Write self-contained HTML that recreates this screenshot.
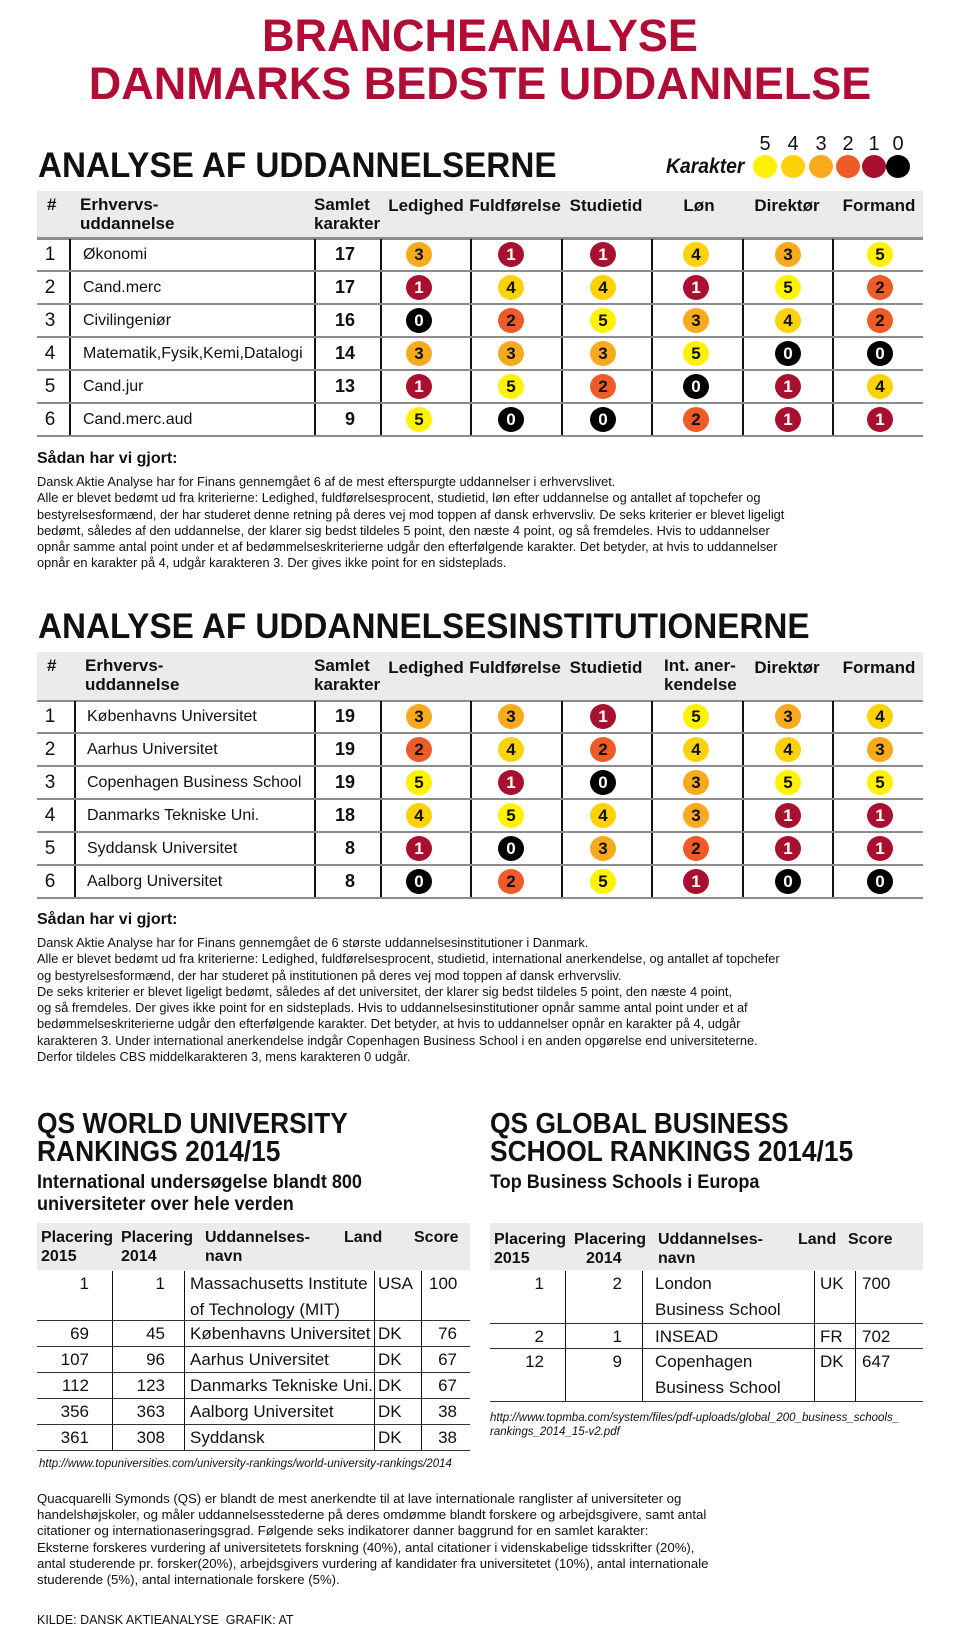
<!DOCTYPE html>
<html><head><meta charset="utf-8">
<style>
*{margin:0;padding:0;box-sizing:border-box}
body{width:960px;height:1640px;background:#fff;font-family:"Liberation Sans",Arial,sans-serif;color:#111;position:relative;overflow:hidden}
.t{position:absolute;white-space:nowrap;line-height:1}
.sx{transform-origin:0 50%;display:inline-block}
.title{color:#b00c36;font-weight:bold;font-size:45px;left:0;width:960px;text-align:center}
.h1{font-weight:bold;font-size:35px;left:38px}
.gray{position:absolute;background:#ebebeb}
.hd{position:absolute;font-weight:bold;font-size:17px;line-height:19px;white-space:nowrap}
.hc{text-align:center;width:100px}
.r{position:absolute;left:37px;width:886px;height:33px;border-bottom:2px solid #8c8c8c}
.r .v{position:absolute;top:0;bottom:0;width:1.5px;background:#111}
.r .n{position:absolute;left:0;width:26px;text-align:center;line-height:31px;font-size:19px}
.r .nm{position:absolute;line-height:31px;font-size:16px;white-space:nowrap}
.r .s{position:absolute;left:270px;width:48px;text-align:right;line-height:31px;font-size:18px;font-weight:bold}
.c{position:absolute;top:3px;width:26px;height:25px;border-radius:50%;font-style:normal;font-weight:bold;font-size:17px;line-height:25px;text-align:center;color:#111}
.c5{background:#fff200}.c4{background:#fdd20a}.c3{background:#f8aa1e}.c2{background:#ee5a28}.c1{background:#a8102f;color:#fff}.c0{background:#000;color:#fff}
.a1{left:369px}.a2{left:461px}.a3{left:553px}.a4{left:646px}.a5{left:738px}.a6{left:830px}
.lg{position:absolute;top:155px;width:24px;height:23px;border-radius:50%}
.ln{position:absolute;top:134px;font-size:20px;width:24px;text-align:center;line-height:1}
.body{position:absolute;left:37px;font-size:12.8px;line-height:16.3px;white-space:nowrap}
.q{position:absolute;height:26px;border-bottom:1.5px solid #333}
.q .v{position:absolute;top:0;bottom:0;width:1px;background:#111}
.q span{position:absolute;font-size:17px;line-height:26px;white-space:nowrap}
.q .rt{text-align:right}
.qh{position:absolute;font-weight:bold;font-size:16px;line-height:19px;white-space:nowrap}
</style></head><body>

<div class="t title" style="top:13px">BRANCHEANALYSE</div>
<div class="t title" style="top:61px">DANMARKS BEDSTE UDDANNELSE</div>

<!-- Section 1 -->
<div class="t h1" style="top:148px"><span class="sx" style="transform:scaleX(.95)">ANALYSE AF UDDANNELSERNE</span></div>
<div class="ln" style="left:753px">5</div>
<div class="ln" style="left:781px">4</div>
<div class="ln" style="left:809px">3</div>
<div class="ln" style="left:836px">2</div>
<div class="ln" style="left:862px">1</div>
<div class="ln" style="left:886px">0</div>
<div class="t" style="left:666px;top:156px;font-size:21px;font-weight:bold;font-style:italic"><span class="sx" style="transform:scaleX(.92)">Karakter</span></div>
<div class="lg c5" style="left:753px"></div><div class="lg c4" style="left:781px"></div><div class="lg c3" style="left:809px"></div><div class="lg c2" style="left:836px"></div><div class="lg c1" style="left:862px"></div><div class="lg c0" style="left:886px"></div>

<div class="gray" style="left:37px;top:191px;width:886px;height:47px"></div>
<div class="hd" style="left:47px;top:195px">#</div>
<div class="hd" style="left:80px;top:195px">Erhvervs-<br>uddannelse</div>
<div class="hd" style="left:314px;top:195px">Samlet<br>karakter</div>
<div class="hd hc" style="left:376px;top:196px">Ledighed</div>
<div class="hd hc" style="left:465px;top:196px">Fuldførelse</div>
<div class="hd hc" style="left:556px;top:196px">Studietid</div>
<div class="hd hc" style="left:649px;top:196px">Løn</div>
<div class="hd hc" style="left:737px;top:196px">Direktør</div>
<div class="hd hc" style="left:829px;top:196px">Formand</div>
<div style="position:absolute;left:37px;top:237px;width:886px;height:2.5px;background:#8c8c8c"></div>

<div class="r" style="top:239px"><i class="v" style="left:32px"></i><i class="v" style="left:277px"></i><i class="v" style="left:343px"></i><i class="v" style="left:433px"></i><i class="v" style="left:524px"></i><i class="v" style="left:614px"></i><i class="v" style="left:705px"></i><i class="v" style="left:795px"></i>
<span class="n">1</span><span class="nm" style="left:46px">Økonomi</span><span class="s">17</span>
<i class="c c3 a1">3</i><i class="c c1 a2">1</i><i class="c c1 a3">1</i><i class="c c4 a4">4</i><i class="c c3 a5">3</i><i class="c c5 a6">5</i></div>
<div class="r" style="top:272px"><i class="v" style="left:32px"></i><i class="v" style="left:277px"></i><i class="v" style="left:343px"></i><i class="v" style="left:433px"></i><i class="v" style="left:524px"></i><i class="v" style="left:614px"></i><i class="v" style="left:705px"></i><i class="v" style="left:795px"></i>
<span class="n">2</span><span class="nm" style="left:46px">Cand.merc</span><span class="s">17</span>
<i class="c c1 a1">1</i><i class="c c4 a2">4</i><i class="c c4 a3">4</i><i class="c c1 a4">1</i><i class="c c5 a5">5</i><i class="c c2 a6">2</i></div>
<div class="r" style="top:305px"><i class="v" style="left:32px"></i><i class="v" style="left:277px"></i><i class="v" style="left:343px"></i><i class="v" style="left:433px"></i><i class="v" style="left:524px"></i><i class="v" style="left:614px"></i><i class="v" style="left:705px"></i><i class="v" style="left:795px"></i>
<span class="n">3</span><span class="nm" style="left:46px">Civilingeniør</span><span class="s">16</span>
<i class="c c0 a1">0</i><i class="c c2 a2">2</i><i class="c c5 a3">5</i><i class="c c3 a4">3</i><i class="c c4 a5">4</i><i class="c c2 a6">2</i></div>
<div class="r" style="top:338px"><i class="v" style="left:32px"></i><i class="v" style="left:277px"></i><i class="v" style="left:343px"></i><i class="v" style="left:433px"></i><i class="v" style="left:524px"></i><i class="v" style="left:614px"></i><i class="v" style="left:705px"></i><i class="v" style="left:795px"></i>
<span class="n">4</span><span class="nm" style="left:46px">Matematik,Fysik,Kemi,Datalogi</span><span class="s">14</span>
<i class="c c3 a1">3</i><i class="c c3 a2">3</i><i class="c c3 a3">3</i><i class="c c5 a4">5</i><i class="c c0 a5">0</i><i class="c c0 a6">0</i></div>
<div class="r" style="top:371px"><i class="v" style="left:32px"></i><i class="v" style="left:277px"></i><i class="v" style="left:343px"></i><i class="v" style="left:433px"></i><i class="v" style="left:524px"></i><i class="v" style="left:614px"></i><i class="v" style="left:705px"></i><i class="v" style="left:795px"></i>
<span class="n">5</span><span class="nm" style="left:46px">Cand.jur</span><span class="s">13</span>
<i class="c c1 a1">1</i><i class="c c5 a2">5</i><i class="c c2 a3">2</i><i class="c c0 a4">0</i><i class="c c1 a5">1</i><i class="c c4 a6">4</i></div>
<div class="r" style="top:404px"><i class="v" style="left:32px"></i><i class="v" style="left:277px"></i><i class="v" style="left:343px"></i><i class="v" style="left:433px"></i><i class="v" style="left:524px"></i><i class="v" style="left:614px"></i><i class="v" style="left:705px"></i><i class="v" style="left:795px"></i>
<span class="n">6</span><span class="nm" style="left:46px">Cand.merc.aud</span><span class="s">9</span>
<i class="c c5 a1">5</i><i class="c c0 a2">0</i><i class="c c0 a3">0</i><i class="c c2 a4">2</i><i class="c c1 a5">1</i><i class="c c1 a6">1</i></div>

<div class="t" style="left:37px;top:450px;font-size:16px;font-weight:bold;line-height:18px">Sådan har vi gjort:</div>
<div class="body" style="top:474px">Dansk Aktie Analyse har for Finans gennemgået 6 af de mest efterspurgte uddannelser i erhvervslivet.<br>Alle er blevet bedømt ud fra kriterierne: Ledighed, fuldførelsesprocent, studietid, løn efter uddannelse og antallet af topchefer og<br>bestyrelsesformænd, der har studeret denne retning på deres vej mod toppen af dansk erhvervsliv. De seks kriterier er blevet ligeligt<br>bedømt, således af den uddannelse, der klarer sig bedst tildeles 5 point, den næste 4 point, og så fremdeles. Hvis to uddannelser<br>opnår samme antal point under et af bedømmelseskriterierne udgår den efterfølgende karakter. Det betyder, at hvis to uddannelser<br>opnår en karakter på 4, udgår karakteren 3. Der gives ikke point for en sidsteplads.</div>

<!-- Section 2 -->
<div class="t h1" style="top:609px"><span class="sx" style="transform:scaleX(.95)">ANALYSE AF UDDANNELSESINSTITUTIONERNE</span></div>
<div class="gray" style="left:37px;top:652px;width:886px;height:48px"></div>
<div class="hd" style="left:47px;top:656px">#</div>
<div class="hd" style="left:85px;top:656px">Erhvervs-<br>uddannelse</div>
<div class="hd" style="left:314px;top:656px">Samlet<br>karakter</div>
<div class="hd hc" style="left:376px;top:658px">Ledighed</div>
<div class="hd hc" style="left:465px;top:658px">Fuldførelse</div>
<div class="hd hc" style="left:556px;top:658px">Studietid</div>
<div class="hd" style="left:664px;top:656px">Int. aner-<br>kendelse</div>
<div class="hd hc" style="left:737px;top:658px">Direktør</div>
<div class="hd hc" style="left:829px;top:658px">Formand</div>
<div style="position:absolute;left:37px;top:700px;width:886px;height:1.5px;background:#8c8c8c"></div>

<div class="r" style="top:701px"><i class="v" style="left:37px"></i><i class="v" style="left:277px"></i><i class="v" style="left:343px"></i><i class="v" style="left:433px"></i><i class="v" style="left:524px"></i><i class="v" style="left:614px"></i><i class="v" style="left:705px"></i><i class="v" style="left:795px"></i>
<span class="n">1</span><span class="nm" style="left:50px">Københavns Universitet</span><span class="s">19</span>
<i class="c c3 a1">3</i><i class="c c3 a2">3</i><i class="c c1 a3">1</i><i class="c c5 a4">5</i><i class="c c3 a5">3</i><i class="c c4 a6">4</i></div>
<div class="r" style="top:734px"><i class="v" style="left:37px"></i><i class="v" style="left:277px"></i><i class="v" style="left:343px"></i><i class="v" style="left:433px"></i><i class="v" style="left:524px"></i><i class="v" style="left:614px"></i><i class="v" style="left:705px"></i><i class="v" style="left:795px"></i>
<span class="n">2</span><span class="nm" style="left:50px">Aarhus Universitet</span><span class="s">19</span>
<i class="c c2 a1">2</i><i class="c c4 a2">4</i><i class="c c2 a3">2</i><i class="c c4 a4">4</i><i class="c c4 a5">4</i><i class="c c3 a6">3</i></div>
<div class="r" style="top:767px"><i class="v" style="left:37px"></i><i class="v" style="left:277px"></i><i class="v" style="left:343px"></i><i class="v" style="left:433px"></i><i class="v" style="left:524px"></i><i class="v" style="left:614px"></i><i class="v" style="left:705px"></i><i class="v" style="left:795px"></i>
<span class="n">3</span><span class="nm" style="left:50px">Copenhagen Business School</span><span class="s">19</span>
<i class="c c5 a1">5</i><i class="c c1 a2">1</i><i class="c c0 a3">0</i><i class="c c3 a4">3</i><i class="c c5 a5">5</i><i class="c c5 a6">5</i></div>
<div class="r" style="top:800px"><i class="v" style="left:37px"></i><i class="v" style="left:277px"></i><i class="v" style="left:343px"></i><i class="v" style="left:433px"></i><i class="v" style="left:524px"></i><i class="v" style="left:614px"></i><i class="v" style="left:705px"></i><i class="v" style="left:795px"></i>
<span class="n">4</span><span class="nm" style="left:50px">Danmarks Tekniske Uni.</span><span class="s">18</span>
<i class="c c4 a1">4</i><i class="c c5 a2">5</i><i class="c c4 a3">4</i><i class="c c3 a4">3</i><i class="c c1 a5">1</i><i class="c c1 a6">1</i></div>
<div class="r" style="top:833px"><i class="v" style="left:37px"></i><i class="v" style="left:277px"></i><i class="v" style="left:343px"></i><i class="v" style="left:433px"></i><i class="v" style="left:524px"></i><i class="v" style="left:614px"></i><i class="v" style="left:705px"></i><i class="v" style="left:795px"></i>
<span class="n">5</span><span class="nm" style="left:50px">Syddansk Universitet</span><span class="s">8</span>
<i class="c c1 a1">1</i><i class="c c0 a2">0</i><i class="c c3 a3">3</i><i class="c c2 a4">2</i><i class="c c1 a5">1</i><i class="c c1 a6">1</i></div>
<div class="r" style="top:866px"><i class="v" style="left:37px"></i><i class="v" style="left:277px"></i><i class="v" style="left:343px"></i><i class="v" style="left:433px"></i><i class="v" style="left:524px"></i><i class="v" style="left:614px"></i><i class="v" style="left:705px"></i><i class="v" style="left:795px"></i>
<span class="n">6</span><span class="nm" style="left:50px">Aalborg Universitet</span><span class="s">8</span>
<i class="c c0 a1">0</i><i class="c c2 a2">2</i><i class="c c5 a3">5</i><i class="c c1 a4">1</i><i class="c c0 a5">0</i><i class="c c0 a6">0</i></div>

<div class="t" style="left:37px;top:911px;font-size:16px;font-weight:bold;line-height:18px">Sådan har vi gjort:</div>
<div class="body" style="top:935px">Dansk Aktie Analyse har for Finans gennemgået de 6 største uddannelsesinstitutioner i Danmark.<br>Alle er blevet bedømt ud fra kriterierne: Ledighed, fuldførelsesprocent, studietid, international anerkendelse, og antallet af topchefer<br>og bestyrelsesformænd, der har studeret på institutionen på deres vej mod toppen af dansk erhvervsliv.<br>De seks kriterier er blevet ligeligt bedømt, således af det universitet, der klarer sig bedst tildeles 5 point, den næste 4 point,<br>og så fremdeles. Der gives ikke point for en sidsteplads. Hvis to uddannelsesinstitutioner opnår samme antal point under et af<br>bedømmelseskriterierne udgår den efterfølgende karakter. Det betyder, at hvis to uddannelser opnår en karakter på 4, udgår<br>karakteren 3. Under international anerkendelse indgår Copenhagen Business School i en anden opgørelse end universiteterne.<br>Derfor tildeles CBS middelkarakteren 3, mens karakteren 0 udgår.</div>

<!-- QS left -->
<div class="t" style="left:37px;top:1110px;font-size:29px;font-weight:bold;line-height:28px"><span class="sx" style="transform:scaleX(.91)">QS WORLD UNIVERSITY<br>RANKINGS 2014/15</span></div>
<div class="t" style="left:37px;top:1172px;font-size:19px;font-weight:bold;line-height:22px"><span class="sx" style="transform:scaleX(.95)">International undersøgelse blandt 800<br>universiteter over hele verden</span></div>
<div class="gray" style="left:37px;top:1223px;width:433px;height:47px"></div>
<div class="qh" style="left:41px;top:1228px">Placering<br>2015</div>
<div class="qh" style="left:121px;top:1228px">Placering<br>2014</div>
<div class="qh" style="left:205px;top:1228px">Uddannelses-<br>navn</div>
<div class="qh" style="left:344px;top:1228px">Land</div>
<div class="qh" style="left:414px;top:1228px">Score</div>

<div class="q" style="left:37px;width:433px;top:1271px;height:50px"><i class="v" style="left:75px"></i><i class="v" style="left:147px"></i><i class="v" style="left:337px"></i><i class="v" style="left:384px"></i>
<span class="rt" style="left:0;width:52px">1</span><span class="rt" style="left:80px;width:48px">1</span><span style="left:153px">Massachusetts Institute<br>of Technology (MIT)</span><span style="left:341px">USA</span><span style="left:392px">100</span></div>
<div class="q" style="left:37px;width:433px;top:1321px"><i class="v" style="left:75px"></i><i class="v" style="left:147px"></i><i class="v" style="left:337px"></i><i class="v" style="left:384px"></i>
<span class="rt" style="left:0;width:52px">69</span><span class="rt" style="left:80px;width:48px">45</span><span style="left:153px">Københavns Universitet</span><span style="left:341px">DK</span><span class="rt" style="left:384px;width:36px">76</span></div>
<div class="q" style="left:37px;width:433px;top:1347px"><i class="v" style="left:75px"></i><i class="v" style="left:147px"></i><i class="v" style="left:337px"></i><i class="v" style="left:384px"></i>
<span class="rt" style="left:0;width:52px">107</span><span class="rt" style="left:80px;width:48px">96</span><span style="left:153px">Aarhus Universitet</span><span style="left:341px">DK</span><span class="rt" style="left:384px;width:36px">67</span></div>
<div class="q" style="left:37px;width:433px;top:1373px"><i class="v" style="left:75px"></i><i class="v" style="left:147px"></i><i class="v" style="left:337px"></i><i class="v" style="left:384px"></i>
<span class="rt" style="left:0;width:52px">112</span><span class="rt" style="left:80px;width:48px">123</span><span style="left:153px">Danmarks Tekniske Uni.</span><span style="left:341px">DK</span><span class="rt" style="left:384px;width:36px">67</span></div>
<div class="q" style="left:37px;width:433px;top:1399px"><i class="v" style="left:75px"></i><i class="v" style="left:147px"></i><i class="v" style="left:337px"></i><i class="v" style="left:384px"></i>
<span class="rt" style="left:0;width:52px">356</span><span class="rt" style="left:80px;width:48px">363</span><span style="left:153px">Aalborg Universitet</span><span style="left:341px">DK</span><span class="rt" style="left:384px;width:36px">38</span></div>
<div class="q" style="left:37px;width:433px;top:1425px"><i class="v" style="left:75px"></i><i class="v" style="left:147px"></i><i class="v" style="left:337px"></i><i class="v" style="left:384px"></i>
<span class="rt" style="left:0;width:52px">361</span><span class="rt" style="left:80px;width:48px">308</span><span style="left:153px">Syddansk</span><span style="left:341px">DK</span><span class="rt" style="left:384px;width:36px">38</span></div>
<div class="t" style="left:39px;top:1458px;font-size:11.5px;font-style:italic;line-height:13px">http://www.topuniversities.com/university-rankings/world-university-rankings/2014</div>

<!-- QS right -->
<div class="t" style="left:490px;top:1110px;font-size:29px;font-weight:bold;line-height:28px"><span class="sx" style="transform:scaleX(.91)">QS GLOBAL BUSINESS<br>SCHOOL RANKINGS 2014/15</span></div>
<div class="t" style="left:490px;top:1172px;font-size:19px;font-weight:bold;line-height:22px"><span class="sx" style="transform:scaleX(.95)">Top Business Schools i Europa</span></div>
<div class="gray" style="left:490px;top:1223px;width:433px;height:47px"></div>
<div class="qh" style="left:494px;top:1230px">Placering<br>2015</div>
<div class="qh" style="left:574px;top:1230px">Placering<br><span style="padding-left:12px">2014</span></div>
<div class="qh" style="left:658px;top:1230px">Uddannelses-<br>navn</div>
<div class="qh" style="left:798px;top:1230px">Land</div>
<div class="qh" style="left:848px;top:1230px">Score</div>

<div class="q" style="left:490px;width:433px;top:1271px;height:53px"><i class="v" style="left:75px"></i><i class="v" style="left:152px"></i><i class="v" style="left:324px"></i><i class="v" style="left:365px"></i>
<span class="rt" style="left:0;width:54px">1</span><span class="rt" style="left:80px;width:52px">2</span><span style="left:165px">London<br>Business School</span><span style="left:330px">UK</span><span style="left:372px">700</span></div>
<div class="q" style="left:490px;width:433px;top:1324px;height:25px"><i class="v" style="left:75px"></i><i class="v" style="left:152px"></i><i class="v" style="left:324px"></i><i class="v" style="left:365px"></i>
<span class="rt" style="left:0;width:54px">2</span><span class="rt" style="left:80px;width:52px">1</span><span style="left:165px">INSEAD</span><span style="left:330px">FR</span><span style="left:372px">702</span></div>
<div class="q" style="left:490px;width:433px;top:1349px;height:53px"><i class="v" style="left:75px"></i><i class="v" style="left:152px"></i><i class="v" style="left:324px"></i><i class="v" style="left:365px"></i>
<span class="rt" style="left:0;width:54px">12</span><span class="rt" style="left:80px;width:52px">9</span><span style="left:165px">Copenhagen<br>Business School</span><span style="left:330px">DK</span><span style="left:372px">647</span></div>
<div class="t" style="left:490px;top:1411px;font-size:11.5px;font-style:italic;line-height:14px">http://www.topmba.com/system/files/pdf-uploads/global_200_business_schools_<br>rankings_2014_15-v2.pdf</div>

<div class="body" style="top:1491px;font-size:13.2px;line-height:16.2px">Quacquarelli Symonds (QS) er blandt de mest anerkendte til at lave internationale ranglister af universiteter og<br>handelshøjskoler, og måler uddannelsesstederne på deres omdømme blandt forskere og arbejdsgivere, samt antal<br>citationer og internationaseringsgrad. Følgende seks indikatorer danner baggrund for en samlet karakter:<br>Eksterne forskeres vurdering af universitetets forskning (40%), antal citationer i videnskabelige tidsskrifter (20%),<br>antal studerende pr. forsker(20%), arbejdsgivers vurdering af kandidater fra universitetet (10%), antal internationale<br>studerende (5%), antal internationale forskere (5%).</div>
<div class="t" style="left:37px;top:1614px;font-size:12.5px">KILDE: DANSK AKTIEANALYSE&nbsp; GRAFIK: AT</div>
</body></html>
